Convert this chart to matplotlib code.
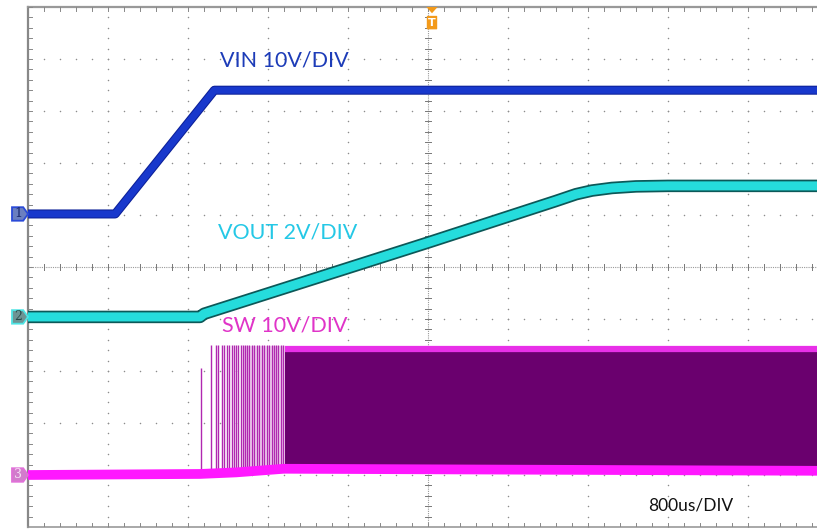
import numpy as np
import matplotlib
matplotlib.use('Agg')
import matplotlib.pyplot as plt
from matplotlib.patches import Polygon, FancyBboxPatch
import matplotlib.patheffects as pe

# 示波器截图：单位为格 (DIV)，横轴 0..10 格，纵轴 -5..5 格
vin_t = [0.0, 1.09, 2.33, 9.9]
vin_v = [1.02, 1.02, 3.40, 3.40]

vout_t = [0.0, 2.15, 2.20, 5.02, 6.60, 6.85, 7.05, 7.30, 7.60, 8.00, 9.9]
vout_v = [-0.96, -0.96, -0.90, 0.48, 1.27, 1.40, 1.47, 1.52, 1.55, 1.56, 1.56]

sw_base_t = [0.0, 2.15, 2.60, 3.20]
sw_base_v = [-4.0, -3.98, -3.95, -3.88]
sw_spike_px = [200.7, 210.7, 216, 218, 221.7, 224, 226.7, 229, 231.7, 234, 236,
               238, 240.7, 242.7, 245, 247, 249, 251.7, 254, 256.7, 259, 261.7,
               264, 266.7, 269, 271.7, 274, 276, 278, 280.7, 283]
sw_spike_top = [-1.95] + [-1.5] * (len(sw_spike_px) - 1)
sw_dense_start = 3.21
sw_high = -1.52
sw_low = -3.92

labels = ["VIN 10V/DIV", "VOUT 2V/DIV", "SW 10V/DIV", "800us/DIV"]

W, H = 817, 529
fig = plt.figure(figsize=(W / 100, H / 100), dpi=100)
fig.patch.set_facecolor('white')
ax = fig.add_axes([28 / W, 2 / H, 1 - 28 / W, 520 / H])
ax.set_xlim(0, (W - 28) / 80)
ax.set_ylim(-5, 5)
ax.axis('off')

# 网格点
gcol = '#8c8c8c'
fine_x = np.arange(0, 10.01, 0.2)
fine_y = np.arange(-5, 5.01, 0.2)
for gx in range(1, 10):
    if gx == 5:
        continue
    ax.scatter(np.full_like(fine_y, gx), fine_y, s=1.2, color=gcol, lw=0, zorder=1)
for gy in range(-4, 5):
    if gy == 0:
        continue
    ax.scatter(fine_x, np.full_like(fine_x, gy), s=1.2, color=gcol, lw=0, zorder=1)

# 中心十字线
ax.plot([0, 10], [0, 0], color='#9a9a9a', lw=0.8, ls=(0, (1, 1)), zorder=1)
ax.plot([5, 5], [-5, 5], color='#9a9a9a', lw=0.8, ls=(0, (1, 1)), zorder=1)
for fx in fine_x:
    ax.plot([fx, fx], [-0.06, 0.06], color='#777777', lw=0.7, zorder=1)
for fy in fine_y:
    ax.plot([4.96, 5.04], [fy, fy], color='#777777', lw=0.7, zorder=1)

# 边框
ax.plot([0, 0], [-5, 5], color='#888888', lw=1.6, zorder=1, clip_on=False)
ax.plot([0, 10], [5, 5], color='#999999', lw=1.6, zorder=1, clip_on=False)
ax.plot([0, 10], [-5, -5], color='#999999', lw=1.2, zorder=1, clip_on=False)
for fy in fine_y:
    ax.plot([0, 0.05], [fy, fy], color='#888888', lw=0.7, zorder=1)
for fx in fine_x:
    ax.plot([fx, fx], [5, 4.93], color='#888888', lw=0.7, zorder=1)
    ax.plot([fx, fx], [-5, -4.93], color='#888888', lw=0.7, zorder=1)

# SW 通道
sw_spike_t = [(p - 28) / 80 for p in sw_spike_px]
ax.fill_between([2.7, sw_dense_start], sw_low, sw_high, color='#f3dcf3', lw=0, zorder=2)
ax.vlines(sw_spike_t, -3.95, sw_spike_top, color='#b028b0', lw=1.0, zorder=3)
ax.fill_between([sw_dense_start, 10], sw_low, sw_high, color='#6a006e', lw=0, zorder=3)
ax.plot([sw_dense_start, 10], [sw_high - 0.05, sw_high - 0.05], color='#e830e8', lw=4.5, zorder=4,
        solid_capstyle='butt')
ax.plot(sw_base_t + [10], sw_base_v + [sw_low], color='#ff18ff', lw=7, zorder=4,
        solid_capstyle='butt')

# VOUT 通道
ax.plot(vout_t, vout_v, color='#25dcdc', lw=6.5, zorder=5, solid_capstyle='butt',
        path_effects=[pe.Stroke(linewidth=9, foreground='#0c5858'), pe.Normal()])

# VIN 通道
ax.plot(vin_t, vin_v, color='#1838cc', lw=5, zorder=6, solid_capstyle='butt',
        path_effects=[pe.Stroke(linewidth=6.5, foreground='#0c2098'), pe.Normal()])

# 通道标记
def ch_marker(y, num, fc, ec, tc):
    pts = [(-0.2, y - 0.13), (-0.06, y - 0.13), (0.0, y), (-0.06, y + 0.13), (-0.2, y + 0.13)]
    ax.add_patch(Polygon(pts, closed=True, fc=fc, ec=ec, lw=1.3, clip_on=False, zorder=7))
    ax.text(-0.125, y, num, ha='center', va='center', fontsize=9, color=tc,
            family='DejaVu Serif', clip_on=False, zorder=8)

ch_marker(vin_v[0], '1', '#6a7fc0', '#2a4ad8', '#1a2a70')
ch_marker(vout_v[0], '2', '#6c9494', '#4ee4e4', '#2a4a4a')
ch_marker(sw_base_v[0], '3', '#d27ccc', '#e070d8', '#f4e0f4')

# 触发标记 T
tx = (432 - 28) / 80
ax.add_patch(Polygon([(tx - 0.07, 5.0), (tx + 0.07, 5.0), (tx, 4.88)], closed=True,
                     fc='#f39a1a', ec='none', clip_on=False, zorder=8))
ax.add_patch(FancyBboxPatch((tx - 0.055, 4.58), 0.11, 0.24, boxstyle='round,pad=0.01',
                            fc='#f39a1a', ec='none', zorder=8))
ax.text(tx, 4.70, 'T', ha='center', va='center', fontsize=8, color='white',
        fontweight='bold', zorder=9)

# 文字标注
ax.text(2.4, 3.98, labels[0], color='#1d3cb8', fontsize=15.5, family='Lato',
        va='center', ha='left', zorder=9)
ax.text(2.37, 0.67, labels[1], color='#25c8e6', fontsize=15.5, family='Lato',
        va='center', ha='left', zorder=9)
ax.text(2.43, -1.13, labels[2], color='#e034c8', fontsize=15.5, family='Lato',
        va='center', ha='left', zorder=9)
ax.text(7.75, -4.58, labels[3], color='#111111', fontsize=12.5, family='Lato',
        va='center', ha='left', zorder=9)

fig.savefig('out.png', dpi=100, facecolor='white')
